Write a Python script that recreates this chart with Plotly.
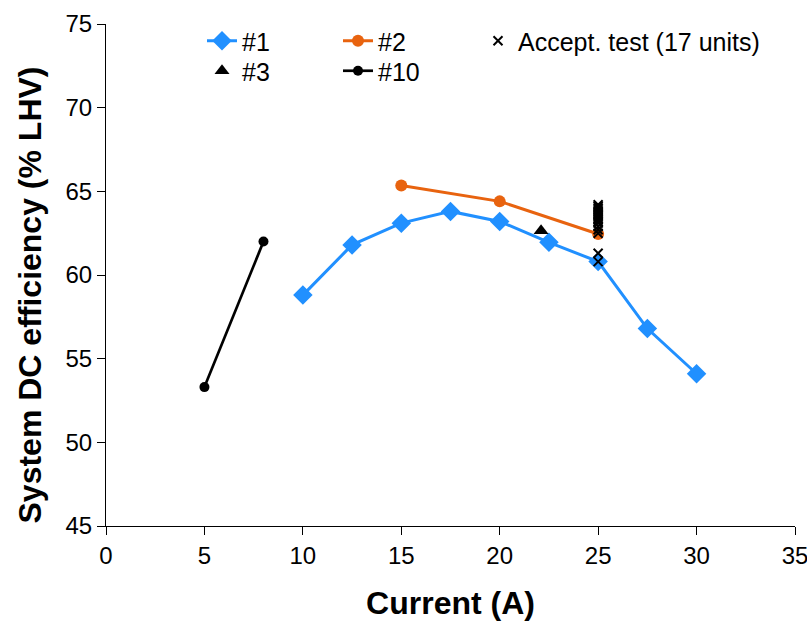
import plotly.graph_objects as go

# Data
x1 = [10, 12.5, 15, 17.5, 20, 22.5, 25, 27.5, 30]
y1 = [58.8, 61.8, 63.1, 63.8, 63.2, 61.95, 60.8, 56.8, 54.1]

x2 = [15, 20, 25]
y2 = [65.35, 64.4, 62.45]

x_acc = [25] * 17
y_acc = [64.2, 64.1, 64.0, 63.9, 63.8, 63.7, 63.6, 63.5, 63.4, 63.3,
         63.2, 63.1, 62.9, 62.7, 62.5, 61.3, 60.8]

x3 = [22.1]
y3 = [62.65]

x10 = [5, 8]
y10 = [53.3, 62.0]

x_ticks = [0, 5, 10, 15, 20, 25, 30, 35]
y_ticks = [45, 50, 55, 60, 65, 70, 75]

BLUE = "#2190ff"
ORANGE = "#e8630f"
FONT = "Liberation Sans, Arial, sans-serif"
TICK_SIZE = 24
TITLE_SIZE = 32
LEG_SIZE = 25

fig = go.Figure()
fig.add_trace(go.Scatter(x=x1, y=y1, name="#1", mode="lines+markers",
                         line=dict(color=BLUE, width=3),
                         marker=dict(symbol="diamond", size=15, color=BLUE),
                         legend="legend"))
fig.add_trace(go.Scatter(x=x2, y=y2, name="#2", mode="lines+markers",
                         line=dict(color=ORANGE, width=3),
                         marker=dict(symbol="circle", size=12, color=ORANGE),
                         legend="legend"))
fig.add_trace(go.Scatter(x=x3, y=y3, name="#3", mode="markers",
                         marker=dict(symbol="triangle-up", size=13, color="black"),
                         legend="legend2"))
fig.add_trace(go.Scatter(x=x10, y=y10, name="#10", mode="lines+markers",
                         line=dict(color="black", width=2.7),
                         marker=dict(symbol="circle", size=10, color="black"),
                         legend="legend2"))
fig.add_trace(go.Scatter(x=x_acc, y=y_acc, name="Accept. test (17 units)", mode="markers",
                         marker=dict(symbol="x-thin", size=9, color="black",
                                     line=dict(width=2, color="black")),
                         legend="legend3"))

def px_x(p):
    return (p - 106) / 689.0

def px_y(p):
    return (526 - p) / 502.0

leg_base = dict(orientation="h",
                font=dict(family=FONT, size=LEG_SIZE, color="black"),
                bgcolor="rgba(0,0,0,0)", xanchor="left", yanchor="top",
                traceorder="normal", tracegroupgap=0)

fig.update_layout(
    width=807, height=622,
    margin=dict(l=106, r=12, t=24, b=96, autoexpand=False),
    paper_bgcolor="white", plot_bgcolor="white",
    font=dict(family=FONT, size=TICK_SIZE, color="black"),
    showlegend=True,
    legend=dict(x=px_x(202), y=px_y(18), entrywidth=91, entrywidthmode="pixels", **leg_base),
    legend2=dict(x=px_x(202), y=px_y(48), entrywidth=91, entrywidthmode="pixels", **leg_base),
    legend3=dict(x=px_x(478), y=px_y(18), **leg_base),
    xaxis=dict(range=[0, 35], tickvals=x_ticks, showgrid=False, zeroline=False,
               showline=True, linecolor="black", linewidth=1.2,
               ticks="outside", ticklen=8, tickcolor="black", tickwidth=1.2,
               ticklabeloverflow="allow",
               tickfont=dict(family=FONT, size=TICK_SIZE, color="black"),
               title=dict(text="<b>Current (A)</b>", font=dict(family=FONT, size=TITLE_SIZE, color="black"),
                          standoff=23)),
    yaxis=dict(range=[45, 75], tickvals=y_ticks, showgrid=False, zeroline=False,
               showline=True, linecolor="black", linewidth=1.2,
               ticks="outside", ticklen=8, tickcolor="black", tickwidth=1.2,
               ticklabeloverflow="allow",
               tickfont=dict(family=FONT, size=TICK_SIZE, color="black")),
    annotations=[dict(text="<b>System DC efficiency (% LHV)</b>", textangle=-90,
                      xref="paper", yref="paper", x=px_x(29), y=px_y(295.5),
                      xanchor="center", yanchor="middle", showarrow=False,
                      font=dict(family=FONT, size=TITLE_SIZE, color="black"))],
)

fig.write_html("out.html")
